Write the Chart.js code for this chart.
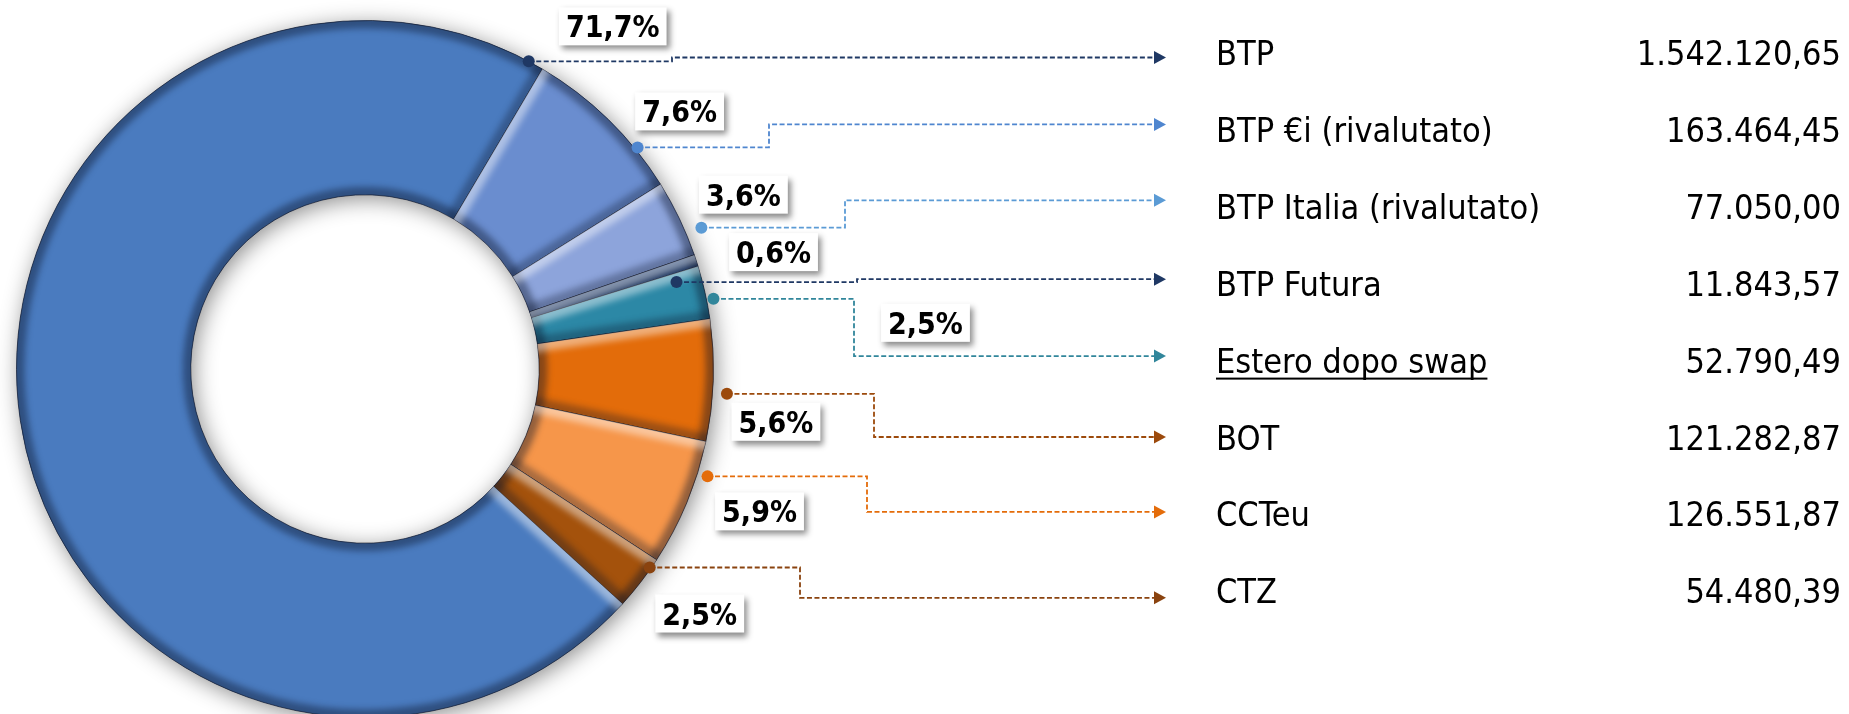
<!DOCTYPE html>
<html>
<head>
<meta charset="utf-8">
<script src="https://cdn.jsdelivr.net/npm/chart.js@4.4.1/dist/chart.umd.min.js"></script>
<style>
  html, body { margin: 0; padding: 0; background: #fff; overflow: hidden; }
  #wrap { width: 1849px; height: 714px; overflow: hidden; }
</style>
</head>
<body>
<div id="wrap"><canvas id="donutChart" width="1849" height="730"></canvas></div>
<script>
// categories and values (migliaia di euro)
const labels = ["BTP", "BTP €i (rivalutato)", "BTP Italia (rivalutato)", "BTP Futura",
                "Estero dopo swap", "BOT", "CCTeu", "CTZ"];
const amounts = [1542120.65, 163464.45, 77050.00, 11843.57, 52790.49, 121282.87, 126551.87, 54480.39];
const amountLabels = ["1.542.120,65", "163.464,45", "77.050,00", "11.843,57",
                      "52.790,49", "121.282,87", "126.551,87", "54.480,39"];

// styles
const sliceColors = ["#4a7bbf", "#6a8dcf", "#8da4db", "#1f3f74", "#2c88a6", "#e36c0a", "#f6964a", "#a4520c"];
const leaderColors = ["#1f3864", "#4f86cf", "#5b9bd5", "#1f3864", "#31869b", "#9c4a0c", "#e46c0a", "#8a430f"];

// where each leader starts on its slice, and where its label box / elbow sit
const anchorFrac = [0.990, 0.741, 0.715, 1.78, 0.65, 0.601, 0.254, 0.183];
const anchorRadius = [1.0, 1.008, 1.047, 0.928, 1.02, 1.041, 1.03, 0.996];
const labelOffsets = [[84, -35], [42, -36], [42, -33], [97, -30], [212, 24], [49, 28], [52, 35], [50, 46]];
const elbowX = [672, 769, 845, 857, 854, 874, 867, 800];
const arrowDy = [5, -5, -6, -4, -4, 0, -2, 7];

const LEGEND_X = 1216;
const VALUE_X = 1841;
const ARROW_X = 1166;
const CONDENSED = '"DejaVu Sans Condensed", "DejaVu Sans", sans-serif';

function rowCenter(i) {
    return 52.5 + i * 76.9;
}

function percentText(i) {
    const total = amounts.reduce((a, b) => a + b, 0);
    return (amounts[i] / total * 100).toFixed(1).replace(".", ",") + "%";
}

function arcPath(ctx, a) {
    ctx.beginPath();
    ctx.arc(a.x, a.y, a.outerRadius, a.startAngle, a.endAngle);
    ctx.arc(a.x, a.y, a.innerRadius, a.endAngle, a.startAngle, true);
    ctx.closePath();
}

/**
 * Soft shadow under the whole ring.
 */
const ringShadow = {
    id: "ringShadow",
    beforeDatasetsDraw(chart) {
        const a = chart.getDatasetMeta(0).data[0];
        const ctx = chart.ctx;
        ctx.save();
        ctx.shadowColor = "rgba(0,0,0,0.45)";
        ctx.shadowBlur = 22;
        ctx.shadowOffsetX = 3;
        ctx.shadowOffsetY = 4;
        ctx.fillStyle = sliceColors[0];
        ctx.beginPath();
        ctx.arc(a.x, a.y, a.outerRadius, 0, Math.PI * 2);
        ctx.arc(a.x, a.y, a.innerRadius, 0, Math.PI * 2, true);
        ctx.fill("evenodd");
        ctx.restore();
    }
};

/**
 * Fake bevel: dark rims, light leading edge.
 */
const bevel = {
    id: "bevel",
    afterDatasetsDraw(chart) {
        const ctx = chart.ctx;
        chart.getDatasetMeta(0).data.forEach(a => {
            ctx.save();
            arcPath(ctx, a);
            ctx.clip();
            ctx.filter = "blur(3px)";
            ctx.lineWidth = 16;
            ctx.strokeStyle = "rgba(10,20,40,0.42)";
            ctx.beginPath();
            ctx.arc(a.x, a.y, a.outerRadius, a.startAngle - 0.1, a.endAngle + 0.1);
            ctx.stroke();
            ctx.beginPath();
            ctx.arc(a.x, a.y, a.innerRadius, a.startAngle - 0.1, a.endAngle + 0.1);
            ctx.stroke();
            const edge = (ang, col) => {
                ctx.strokeStyle = col;
                ctx.beginPath();
                ctx.moveTo(a.x + Math.cos(ang) * (a.innerRadius - 5), a.y + Math.sin(ang) * (a.innerRadius - 5));
                ctx.lineTo(a.x + Math.cos(ang) * (a.outerRadius + 5), a.y + Math.sin(ang) * (a.outerRadius + 5));
                ctx.stroke();
            };
            ctx.lineWidth = 16;
            edge(a.endAngle, "rgba(10,20,40,0.32)");
            edge(a.startAngle, "rgba(255,255,255,0.45)");
            ctx.restore();
        });
    }
};

/**
 * Leader lines, percentage boxes and the value list on the right.
 */
const leaders = {
    id: "leaders",
    afterDraw(chart) {
        const ctx = chart.ctx;
        const arcs = chart.getDatasetMeta(0).data;
        const anchors = arcs.map((a, i) => {
            const ang = a.startAngle + anchorFrac[i] * (a.endAngle - a.startAngle);
            const r = a.outerRadius * anchorRadius[i];
            return [a.x + Math.cos(ang) * r, a.y + Math.sin(ang) * r];
        });

        // lines + arrows + dots
        anchors.forEach(([px, py], i) => {
            const ay = rowCenter(i) + arrowDy[i];
            ctx.save();
            ctx.strokeStyle = leaderColors[i];
            ctx.fillStyle = leaderColors[i];
            ctx.lineWidth = 1.8;
            ctx.setLineDash([5, 2.5]);
            ctx.beginPath();
            ctx.moveTo(px, py);
            ctx.lineTo(elbowX[i], py);
            ctx.lineTo(elbowX[i], ay);
            ctx.lineTo(ARROW_X - 10, ay);
            ctx.stroke();
            ctx.setLineDash([]);
            ctx.beginPath();
            ctx.moveTo(ARROW_X, ay);
            ctx.lineTo(ARROW_X - 12, ay - 6.5);
            ctx.lineTo(ARROW_X - 12, ay + 6.5);
            ctx.closePath();
            ctx.fill();
            ctx.beginPath();
            ctx.arc(px, py, 6, 0, Math.PI * 2);
            ctx.fill();
            ctx.restore();
        });

        // percentage boxes
        ctx.save();
        ctx.font = "bold 30px " + CONDENSED;
        anchors.forEach(([px, py], i) => {
            const txt = percentText(i);
            const w = ctx.measureText(txt).width + 14;
            const h = 38;
            const cx = px + labelOffsets[i][0];
            const cy = py + labelOffsets[i][1];
            ctx.save();
            ctx.shadowColor = "rgba(0,0,0,0.45)";
            ctx.shadowBlur = 6;
            ctx.shadowOffsetX = 3;
            ctx.shadowOffsetY = 4;
            ctx.fillStyle = "#ffffff";
            ctx.fillRect(cx - w / 2, cy - h / 2, w, h);
            ctx.restore();
            ctx.fillStyle = "#000000";
            ctx.textAlign = "center";
            ctx.textBaseline = "alphabetic";
            ctx.fillText(txt, cx, cy + 11);
        });
        ctx.restore();

        // legend list
        ctx.save();
        ctx.font = "34px " + CONDENSED;
        ctx.fillStyle = "#000000";
        ctx.textBaseline = "alphabetic";
        labels.forEach((lab, i) => {
            const base = rowCenter(i) + 12.5;
            ctx.textAlign = "left";
            ctx.fillText(lab, LEGEND_X, base);
            if (i === 4) {
                const w = ctx.measureText(lab).width;
                ctx.fillRect(LEGEND_X, base + 5, w, 2);
            }
            ctx.textAlign = "right";
            ctx.fillText(amountLabels[i], VALUE_X, base);
        });
        ctx.restore();
    }
};

const ctx = document.getElementById("donutChart");
const donutChart = new Chart(ctx, {
    type: "doughnut",
    data: {
        labels: labels,
        datasets: [{
            data: amounts,
            backgroundColor: sliceColors,
            borderColor: "rgba(25,25,35,0.65)",
            borderWidth: 1
        }]
    },
    options: {
        responsive: false,
        devicePixelRatio: 1,
        animation: false,
        events: [],
        rotation: 132.34,
        cutout: "50%",
        layout: { padding: { left: 16, right: 1135, top: 20, bottom: 12 } },
        plugins: {
            legend: { display: false },
            tooltip: { enabled: false }
        }
    },
    plugins: [ringShadow, bevel, leaders]
});
</script>
</body>
</html>
